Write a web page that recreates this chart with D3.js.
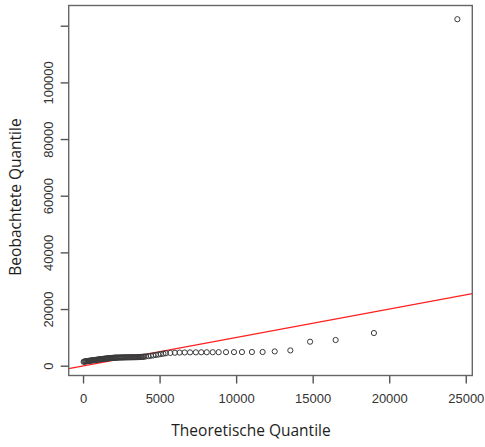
<!DOCTYPE html>
<html>
<head>
<meta charset="utf-8">
<script src="https://cdn.jsdelivr.net/npm/d3@7"></script>
<style>
  html, body { margin: 0; padding: 0; background: #fff; }
  svg { display: block; }
</style>
</head>
<body>
<svg id="chart" width="485" height="447"></svg>
<script>
// Theoretical quantiles (x) and observed sorted sample values (y) of the Q-Q plot
const theoretical = [
  40, 90, 140, 190, 240, 290, 340, 390, 440, 490,
  540, 590, 640, 690, 740, 790, 840, 890, 940, 990,
  1040, 1090, 1140, 1190, 1240, 1290, 1340, 1390, 1440, 1490,
  1540, 1590, 1640, 1690, 1740, 1790, 1840, 1890, 1940, 1990,
  2040, 2090, 2140, 2190, 2240,
  2310, 2380, 2450, 2520, 2590, 2660, 2730, 2800, 2870, 2940,
  3010, 3080, 3150, 3220, 3290, 3360, 3430, 3500, 3570, 3640,
  3710, 3780, 3850, 3920, 3990,
  4100, 4270, 4430, 4590, 4760, 4920, 5080, 5250, 5410,
  5700, 6000, 6310, 6640, 6990, 7370, 7720, 8080, 8470, 8860,
  9340, 9860, 10380, 11030, 11730, 12520, 13540, 14830, 16500, 19000,
  24450
];
const observed = [
  1380, 1450, 1500, 1540, 1590, 1640, 1680, 1720, 1760, 1800,
  1840, 1880, 1920, 1950, 1990, 2030, 2060, 2100, 2140, 2170,
  2210, 2240, 2280, 2310, 2350, 2380, 2420, 2450, 2480, 2510,
  2540, 2570, 2600, 2630, 2660, 2690, 2720, 2740, 2770, 2790,
  2810, 2830, 2850, 2860, 2870,
  2880, 2890, 2900, 2910, 2920, 2930, 2940, 2950, 2955, 2960,
  2970, 2975, 2980, 2990, 3000, 3010, 3020, 3030, 3040, 3060,
  3080, 3100, 3130, 3160, 3200,
  3280, 3380, 3500, 3650, 3800, 3950, 4100, 4250, 4400,
  4500, 4580, 4640, 4680, 4700, 4720, 4740, 4750, 4760, 4770,
  4790, 4800, 4820, 4830, 4840, 5050, 5400, 8470, 9060, 11530,
  122300
];
// Reference line (intercept, slope)
const refLine = [-100, 1.005];

const xTicks = [0, 5000, 10000, 15000, 20000, 25000];
const yTicks = [0, 20000, 40000, 60000, 80000, 100000, 120000];
const yTickLabels = ["0", "20000", "40000", "60000", "80000", "100000", ""];

const xTitle = "Theoretische Quantile";
const yTitle = "Beobachtete Quantile";

const plot = { left: 68.7, right: 472.3, top: 5.5, bottom: 375.5 };

// R-style 4% padding on both ends of the data range
function padded(ext) {
  const d = (ext[1] - ext[0]) * 0.04;
  return [ext[0] - d, ext[1] + d];
}

const x = d3.scaleLinear().domain(padded(d3.extent(theoretical))).range([plot.left, plot.right]);
const y = d3.scaleLinear().domain(padded(d3.extent(observed))).range([plot.bottom, plot.top]);

const svg = d3.select("#chart");

svg.append("defs").append("clipPath").attr("id", "plotclip")
  .append("rect")
  .attr("x", plot.left).attr("y", plot.top)
  .attr("width", plot.right - plot.left).attr("height", plot.bottom - plot.top);

// Reference line
const [x0, x1] = x.domain();
svg.append("line")
  .attr("clip-path", "url(#plotclip)")
  .attr("x1", x(x0)).attr("y1", y(refLine[0] + refLine[1] * x0))
  .attr("x2", x(x1)).attr("y2", y(refLine[0] + refLine[1] * x1))
  .attr("stroke", "#ff2020").attr("stroke-width", 1.2);

// Points
svg.append("g").selectAll("circle")
  .data(theoretical.map((t, i) => [t, observed[i]]))
  .join("circle")
  .attr("cx", d => x(d[0]))
  .attr("cy", d => y(d[1]))
  .attr("r", 2.6)
  .attr("fill", "none")
  .attr("stroke", "#3a3a3a")
  .attr("stroke-width", 1);

// Box
svg.append("rect")
  .attr("x", plot.left).attr("y", plot.top)
  .attr("width", plot.right - plot.left).attr("height", plot.bottom - plot.top)
  .attr("fill", "none").attr("stroke", "#666").attr("stroke-width", 1.4);

// Axes
const xAxis = d3.axisBottom(x).tickValues(xTicks).tickSize(8).tickPadding(10)
  .tickFormat(d => String(d));
const gx = svg.append("g").attr("transform", `translate(0,${plot.bottom})`).call(xAxis);
gx.select(".domain").remove();

const yAxis = d3.axisLeft(y).tickValues(yTicks).tickSize(8).tickPadding(4)
  .tickFormat((d, i) => yTickLabels[i]);
const gy = svg.append("g").attr("transform", `translate(${plot.left},0)`).call(yAxis);
gy.select(".domain").remove();

[gx, gy].forEach(g => {
  g.selectAll(".tick line").attr("stroke", "#555").attr("stroke-width", 1.4);
  g.selectAll(".tick text")
    .attr("fill", "#333")
    .style("font-family", "'Liberation Sans', Arial, sans-serif")
    .style("font-size", "13px");
});

// Rotated y tick labels, centred on their ticks
gy.selectAll(".tick text")
  .attr("transform", "rotate(-90)")
  .attr("x", 0).attr("y", -16)
  .attr("dy", "0")
  .attr("text-anchor", "middle");

// Axis titles
svg.append("text")
  .attr("x", 251).attr("y", 436)
  .attr("text-anchor", "middle")
  .attr("fill", "#1e1e1e")
  .style("font-family", "'Open Sans', sans-serif")
  .style("font-size", "15.5px")
  .text(xTitle);

svg.append("text")
  .attr("transform", "translate(21,197) rotate(-90)")
  .attr("text-anchor", "middle")
  .attr("fill", "#1e1e1e")
  .style("font-family", "'Open Sans', sans-serif")
  .style("font-size", "15.5px")
  .text(yTitle);
</script>
</body>
</html>
